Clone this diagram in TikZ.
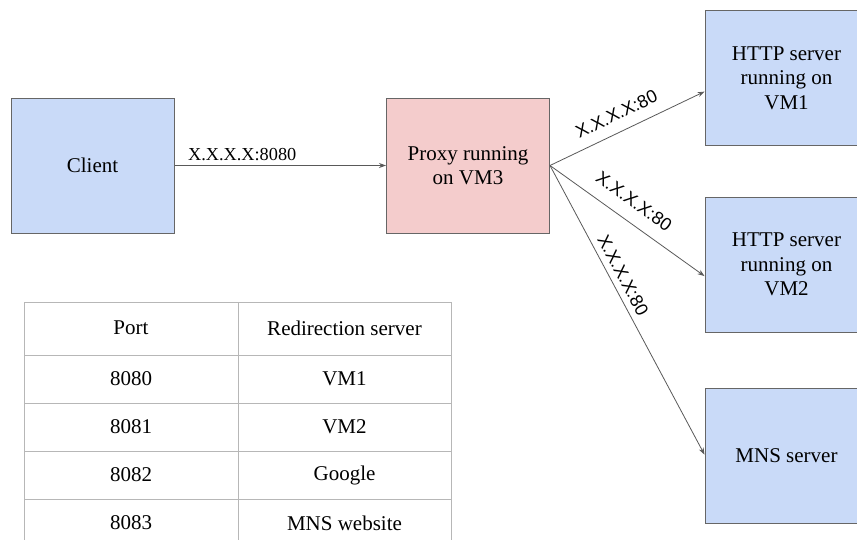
\documentclass[tikz,border=0pt]{standalone}
\usepackage{fontspec}
\newfontfamily\serifmain{LiberationSerif-Regular.ttf}
\newfontfamily\labelsans{Liberation Sans}
\usetikzlibrary{arrows.meta,calc}
\definecolor{boxblue}{HTML}{C9DAF8}
\definecolor{boxpink}{HTML}{F4CCCC}
\definecolor{edgegray}{HTML}{595959}
\definecolor{bordergray}{HTML}{666666}
\definecolor{tablegray}{HTML}{B7B7B7}
\begin{document}
\begin{tikzpicture}[x=1pt,y=-1pt,
  box/.style={draw=bordergray, line width=1pt, minimum width=163pt, minimum height=135pt,
    inner sep=0pt, align=center, font=\serifmain\fontsize{21}{24.5}\selectfont},
  conn/.style={draw=edgegray, line width=0.8pt, -{Stealth[length=7pt,width=5pt]}},
  elabel/.style={font=\serifmain\fontsize{18.3}{22}\selectfont, text=black, above=1pt},
  slabel/.style={font=\labelsans\fontsize{18}{22}\selectfont, sloped, inner sep=0pt},
  cell/.style={font=\serifmain\fontsize{21}{24}\selectfont, inner sep=0pt},
  grid/.style={draw=tablegray, line width=1pt}]
\useasboundingbox (0,0) rectangle (857,539);

% boxes
\node[box, fill=boxblue] (client) at (92.5,165.5) {Client};
\node[box, fill=boxpink] (proxy) at (468,165.5) {Proxy running\\on VM3};
\node[box, fill=boxblue] (vm1) at (786.5,78) {HTTP server\\running on\\VM1};
\node[box, fill=boxblue] (vm2) at (786.5,264.5) {HTTP server\\running on\\VM2};
\node[box, fill=boxblue] (mns) at (786.5,456) {MNS server};

\coordinate (vm1in) at ($(vm1.north west)!0.6!(vm1.south west)$);
\coordinate (vm2in) at ($(vm2.north west)!0.585!(vm2.south west)$);
\coordinate (mnsin) at ($(mns.north west)!0.49!(mns.south west)$);

% connectors
\draw[conn] (client.east) -- node[elabel, pos=0.32] (l0) {X.X.X.X:8080} (proxy.west);
\draw[conn] (proxy.east) -- node[slabel, pos=0.48, above=11pt] (l1) {X.X.X.X:80} (vm1in);
\draw[conn] (proxy.east) -- node[slabel, pos=0.47, above=13pt] (l2) {X.X.X.X:80} (vm2in);
\draw[conn] (proxy.east) -- node[slabel, pos=0.40, above=6pt] (l3) {X.X.X.X:80} (mnsin);

% table
\foreach \yy in {302,355,403,451,499} \draw[grid] (24,\yy) -- (451,\yy);
\foreach \xx in {24,238,451} \draw[grid] (\xx,302) -- (\xx,547);
\node[cell] (p0) at (131,328) {Port};
\node[cell] (r0) at (344.5,328) {Redirection server};
\node[cell] (p1) at (131,379) {8080};
\node[cell] (r1) at (344.5,379) {VM1};
\node[cell] (p2) at (131,427) {8081};
\node[cell] (r2) at (344.5,427) {VM2};
\node[cell] (p3) at (131,475) {8082};
\node[cell] (r3) at (344.5,475) {Google};
\node[cell] (p4) at (131,523) {8083};
\node[cell] (r4) at (344.5,523) {MNS website};
\end{tikzpicture}
\end{document}
